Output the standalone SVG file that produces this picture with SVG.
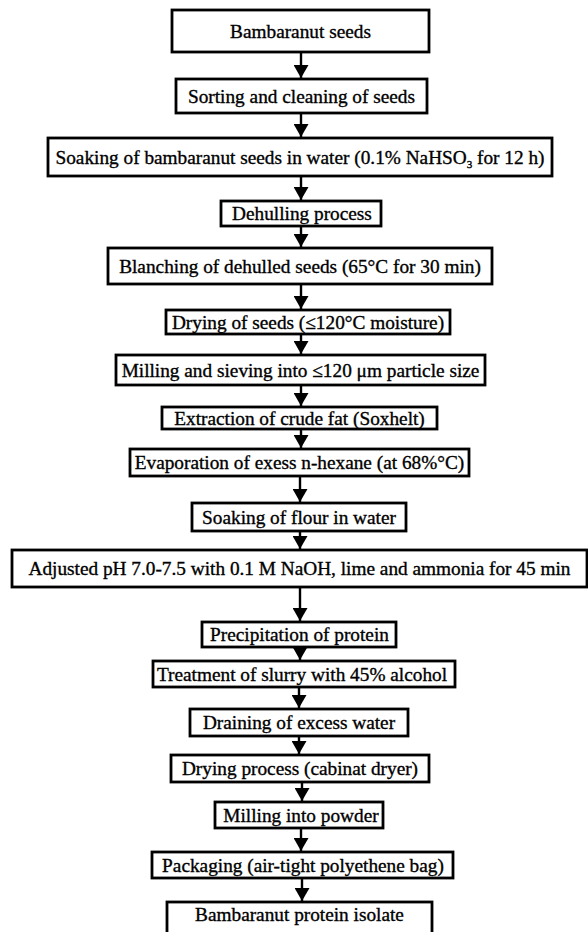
<svg xmlns="http://www.w3.org/2000/svg" width="588" height="932" viewBox="0 0 588 932">
<style>
.box{fill:#fff;stroke:#000;stroke-width:2.8}
.t{font-family:"Liberation Serif","Times New Roman",serif;font-size:19.3px;fill:#000;stroke:#000;stroke-width:0.35;text-anchor:middle}
.c{stroke:#000;stroke-width:2.4;fill:none}
</style>
<defs>
<marker id="ah" markerUnits="userSpaceOnUse" markerWidth="14" markerHeight="15" refX="13" refY="7.5" orient="auto" viewBox="0 0 14 15">
<path d="M0,0 L13,7.5 L0,15 z" fill="#000"/>
</marker>
</defs>
<rect width="588" height="932" fill="#fff"/>
<g id="connectors">
<line class="c" x1="301" y1="52" x2="301" y2="78" marker-end="url(#ah)"/>
<line class="c" x1="301" y1="113" x2="301" y2="137" marker-end="url(#ah)"/>
<line class="c" x1="301" y1="176" x2="301" y2="200" marker-end="url(#ah)"/>
<line class="c" x1="301" y1="226" x2="301" y2="247" marker-end="url(#ah)"/>
<line class="c" x1="301" y1="284" x2="301" y2="309" marker-end="url(#ah)"/>
<line class="c" x1="301" y1="334" x2="301" y2="354" marker-end="url(#ah)"/>
<line class="c" x1="301" y1="385" x2="301" y2="406" marker-end="url(#ah)"/>
<line class="c" x1="301" y1="429" x2="301" y2="448" marker-end="url(#ah)"/>
<line class="c" x1="300" y1="476" x2="300" y2="502" marker-end="url(#ah)"/>
<line class="c" x1="300" y1="531" x2="300" y2="549" marker-end="url(#ah)"/>
<line class="c" x1="300" y1="587" x2="300" y2="621" marker-end="url(#ah)"/>
<line class="c" x1="300" y1="647" x2="300" y2="660" marker-end="url(#ah)"/>
<line class="c" x1="299" y1="687" x2="299" y2="708" marker-end="url(#ah)"/>
<line class="c" x1="299" y1="736" x2="299" y2="754" marker-end="url(#ah)"/>
<line class="c" x1="302" y1="782" x2="302" y2="801" marker-end="url(#ah)"/>
<line class="c" x1="301" y1="828" x2="301" y2="851" marker-end="url(#ah)"/>
<line class="c" x1="302" y1="878" x2="302" y2="901" marker-end="url(#ah)"/>
</g>
<g id="n1"><rect class="box" x="172" y="10" width="257" height="42"/><text class="t" x="300.5" y="37.5">Bambaranut seeds</text></g>
<g id="n2"><rect class="box" x="176" y="79" width="251" height="34"/><text class="t" x="301.5" y="102.5">Sorting and cleaning of seeds</text></g>
<g id="n3"><rect class="box" x="48" y="138" width="504" height="38"/><text class="t" x="300" y="163.5">Soaking of bambaranut seeds in water (0.1% NaHSO<tspan font-size="11" dy="4">3</tspan><tspan dy="-4"> for 12 h)</tspan></text></g>
<g id="n4"><rect class="box" x="221" y="201" width="160" height="25"/><text class="t" x="302" y="220">Dehulling process</text></g>
<g id="n5"><rect class="box" x="108" y="248" width="384" height="36"/><text class="t" x="300" y="272.5">Blanching of dehulled seeds (65°C for 30 min)</text></g>
<g id="n6"><rect class="box" x="166" y="310" width="284" height="24"/><text class="t" x="308" y="328.5">Drying of seeds (≤120°C moisture)</text></g>
<g id="n7"><rect class="box" x="116" y="355" width="369" height="30"/><text class="t" x="300.5" y="376.5">Milling and sieving into ≤120 μm particle size</text></g>
<g id="n8"><rect class="box" x="162" y="407" width="275" height="22"/><text class="t" x="299.5" y="424.5">Extraction of crude fat (Soxhelt)</text></g>
<g id="n9"><rect class="box" x="130" y="449" width="339" height="27"/><text class="t" x="299.5" y="469">Evaporation of exess n-hexane (at 68%°C)</text></g>
<g id="n10"><rect class="box" x="192" y="503" width="214" height="28"/><text class="t" x="299" y="523.5">Soaking of flour in water</text></g>
<g id="n11"><rect class="box" x="12" y="550" width="575" height="37"/><text class="t" x="299.5" y="575">Adjusted pH 7.0-7.5 with 0.1 M NaOH, lime and ammonia for 45 min</text></g>
<g id="n12"><rect class="box" x="202" y="622" width="194" height="25"/><text class="t" x="299.5" y="641">Precipitation of protein</text></g>
<g id="n13"><rect class="box" x="153" y="661" width="302" height="26"/><text class="t" x="302" y="680.5">Treatment of slurry with 45% alcohol</text></g>
<g id="n14"><rect class="box" x="190" y="709" width="218" height="27"/><text class="t" x="299" y="729">Draining of excess water</text></g>
<g id="n15"><rect class="box" x="171" y="755" width="258" height="27"/><text class="t" x="300" y="775">Drying process (cabinat dryer)</text></g>
<g id="n16"><rect class="box" x="215" y="802" width="168" height="26"/><text class="t" x="301" y="821.5">Milling into powder</text></g>
<g id="n17"><rect class="box" x="152" y="852" width="301" height="26"/><text class="t" x="303" y="871.5">Packaging (air-tight polyethene bag)</text></g>
<g id="n18"><rect class="box" x="167" y="902" width="265" height="44"/><text class="t" x="299.5" y="921">Bambaranut protein isolate</text></g>
</svg>
